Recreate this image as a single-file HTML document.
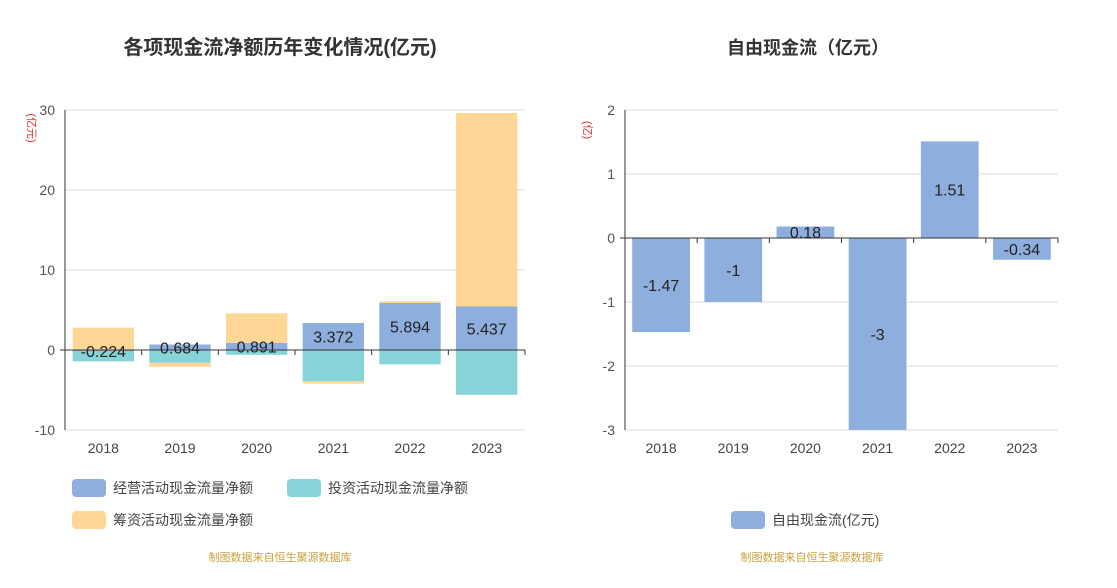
<!DOCTYPE html>
<html><head><meta charset="utf-8"><style>
body{margin:0;background:#fff;width:1117px;height:583px;overflow:hidden;font-family:"Liberation Sans","Noto Sans CJK SC",sans-serif}
svg text{font-family:"Liberation Sans","Noto Sans CJK SC",sans-serif}
</style></head><body>
<svg id="s" width="1117" height="583"></svg>
<script>
const years=["2018","2019","2020","2021","2022","2023"];
const opVals=[-0.224,0.684,0.891,3.372,5.894,5.437];
const invVals=[-1.2,-1.6,-0.6,-3.9,-1.8,-5.6];
const finVals=[2.8,-0.5,3.7,-0.3,0.2,24.2];
const leftTicks=[30,20,10,0,-10];
const fcfVals=[-1.47,-1,0.18,-3,1.51,-0.34];
const fcfLabels=["-1.47","-1","0.18","-3","1.51","-0.34"];
const rightTicks=[2,1,0,-1,-2,-3];
const NS="http://www.w3.org/2000/svg",S=document.getElementById('s');
function el(t,a,txt){const e=document.createElementNS(NS,t);for(const k in a)e.setAttribute(k,a[k]);if(txt!=null)e.textContent=txt;S.appendChild(e);return e;}
// titles
let t=el('text',{x:280,y:54,'text-anchor':'middle','font-size':20,'font-weight':'bold',fill:'#333'},'各项现金流净额历年变化情况(亿元)');

t=el('text',{x:808,y:54,'text-anchor':'middle','font-size':18,'font-weight':'bold',fill:'#333'},'自由现金流（亿元）');

// left chart
const L={x0:65,x1:525,yTop:110,yBot:430,min:-10,max:30};
const ly=v=>L.yBot-(v-L.min)/(L.max-L.min)*(L.yBot-L.yTop);
const lw=(L.x1-L.x0)/years.length;
leftTicks.forEach(v=>{
 let g=el('line',{x1:L.x0,x2:L.x1,y1:ly(v),y2:ly(v),stroke:'#ddd'});
 
 let tx=el('text',{x:L.x0-10,y:ly(v)+5,'text-anchor':'end','font-size':14,fill:'#555'},v);
 
});
t=el('text',{x:28,y:128,'font-size':11,fill:'#e03030',transform:'rotate(90 28 128)','text-anchor':'middle'},'(亿元)');

el('line',{x1:L.x0,x2:L.x0,y1:L.yTop,y2:L.yBot,stroke:'#333'});
const series=[[opVals,'#8eaedd','operating'],[invVals,'#86d4d8','investing'],[finVals,'#fed797','financing']];
years.forEach((y,i)=>{
 let pos=0,neg=0;const bx=L.x0+i*lw+lw*0.1,bw=lw*0.8;
 series.forEach(([arr,c,n])=>{
  const v=arr[i];let a,b;
  if(v>=0){a=pos;b=pos+v;pos=b;}else{a=neg;b=neg+v;neg=b;}
  let r=el('rect',{x:bx,y:Math.min(ly(a),ly(b)),width:bw,height:Math.abs(ly(a)-ly(b)),fill:c});
  
 });
 const v=opVals[i];
 let lt=el('text',{x:bx+bw/2,y:(ly(0)+ly(v))/2+6,'text-anchor':'middle','font-size':16,fill:'#222'},v);
 
 let xt=el('text',{x:L.x0+i*lw+lw/2,y:453,'text-anchor':'middle','font-size':14,fill:'#444'},y);
 
 el('line',{x1:L.x0+(i+1)*lw,x2:L.x0+(i+1)*lw,y1:ly(0),y2:ly(0)+5,stroke:'#333'});
});
el('line',{x1:L.x0-5,x2:L.x1,y1:ly(0),y2:ly(0),stroke:'#333'});
// left legend
[['经营活动现金流量净额','#8eaedd',72,488],['投资活动现金流量净额','#86d4d8',287,488],['筹资活动现金流量净额','#fed797',72,520]].forEach(([n,c,x,y],k)=>{
 let r=el('rect',{x:x,y:y-9,width:34,height:18,rx:4,fill:c});
 
 let tx=el('text',{x:x+41,y:y+5,'font-size':14,fill:'#444'},n);
 
});
// right chart
const R={x0:625,x1:1058,yTop:110,yBot:430,min:-3,max:2};
const ry=v=>R.yBot-(v-R.min)/(R.max-R.min)*(R.yBot-R.yTop);
const rw=(R.x1-R.x0)/years.length;
rightTicks.forEach(v=>{
 let g=el('line',{x1:R.x0,x2:R.x1,y1:ry(v),y2:ry(v),stroke:'#ddd'});
 
 let tx=el('text',{x:R.x0-10,y:ry(v)+5,'text-anchor':'end','font-size':14,fill:'#555'},v);
 
});
t=el('text',{x:584,y:130,'font-size':11,fill:'#e03030',transform:'rotate(90 584 130)','text-anchor':'middle'},'(亿)');

el('line',{x1:R.x0,x2:R.x0,y1:R.yTop,y2:R.yBot,stroke:'#333'});
years.forEach((y,i)=>{
 const v=fcfVals[i],bx=R.x0+i*rw+rw*0.1,bw=rw*0.8;
 let r=el('rect',{x:bx,y:Math.min(ry(0),ry(v)),width:bw,height:Math.abs(ry(0)-ry(v)),fill:'#8eaedd'});
 
 let lt=el('text',{x:bx+bw/2,y:(ry(0)+ry(v))/2+6,'text-anchor':'middle','font-size':16,fill:'#222'},fcfLabels[i]);
 
 let xt=el('text',{x:R.x0+i*rw+rw/2,y:453,'text-anchor':'middle','font-size':14,fill:'#444'},y);
 
 el('line',{x1:R.x0+(i+1)*rw,x2:R.x0+(i+1)*rw,y1:ry(0),y2:ry(0)+5,stroke:'#333'});
});
el('line',{x1:R.x0-5,x2:R.x1,y1:ry(0),y2:ry(0),stroke:'#333'});
let r=el('rect',{x:731,y:511,width:34,height:18,rx:4,fill:'#8eaedd'});

t=el('text',{x:772,y:525,'font-size':14,fill:'#444'},'自由现金流(亿元)');

[[280],[812]].forEach(([x],k)=>{
 let s=el('text',{x:x,y:561,'text-anchor':'middle','font-size':11,fill:'#c8a040'},'制图数据来自恒生聚源数据库');
 
});
</script>
</body></html>
